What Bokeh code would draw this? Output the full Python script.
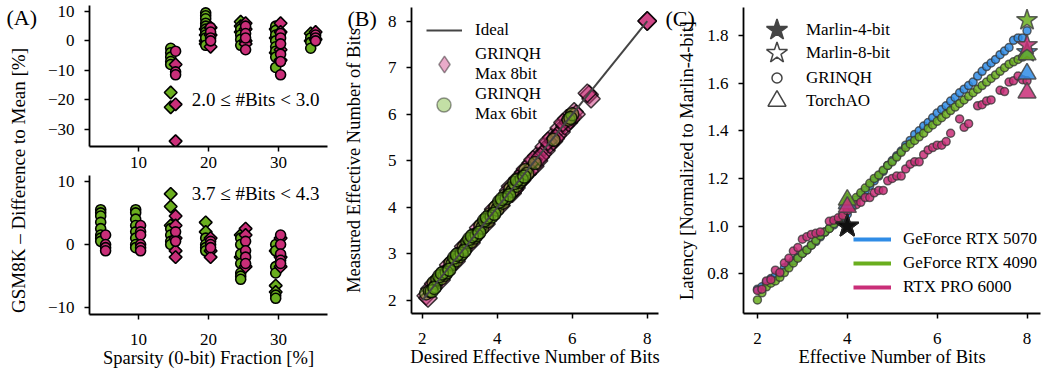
from math import pi
from bokeh.plotting import figure
from bokeh.layouts import row, column
from bokeh.models import Range1d, Label, Legend, LegendItem, FixedTicker, Title
from bokeh.embed import file_html
from bokeh.resources import INLINE

FONT = "Liberation Serif"
GREEN = "#6AAE1E"
PINK = "#C92E78"
BLUE = "#2F8CE6"
NAN = float("nan")

# ---------------- Panel A data ----------------
A_TOP_X = [15, 20, 25, 30, 35]
A_TOP_G_CIRC = [[-2.5, -4, -5.5, -7, -8], [9.5, 8.5, 7.5, 6, 5, 4, 3, 2, 1, -1.5],
                [4, 2, 0.5, -1.5], [5, 3.5, 2, 0, -2, -3.5, -5.5, -9], [1, -0.5, -2.5]]
A_TOP_G_DIAM = [[-17.5, -22.5], [4, 2, 0, -1], [6.5, 5, 3], [4, 1, -4], [2.5, 0]]
A_TOP_P_CIRC = [[-3.5, -10.5, -11.5], [4.5, 3, 1, 0], [5, 2.5, 1, -3],
                [2.5, 1, -1, -4.5, -7, -11.5], [2, 1, 0]]
A_TOP_P_DIAM = [[-8, -21.5, -34], [4.5, 2, -2], [6, 4, 0, -1], [6, 3, -3, -6.5], [3, 0.5]]

A_BOT_X = [5, 10, 15, 20, 25, 30]
A_BOT_G_CIRC = [[5.5, 5, 4.5, 3.5, 2.5, 1.5, 1, 0.5], [5.5, 5, 4, 3, 2, 1, 0, -0.5],
                [2.5, 1.5, 0.5, 0], [1, 0, -0.5, -1], [1, 0, -1.5, -3, -4.5, -5, -5.5],
                [0, -1, -3.5, -4.5, -8, -8.5]]
A_BOT_G_DIAM = [[], [], [8, 6, 3], [3.5, 2], [1.5, -2], [-6.5, -7.5, -1]]
A_BOT_P_CIRC = [[1.5, 0, -0.5, -1], [3, 2, 1.5, 0, -0.5, -1], [2, 0.5], [0.5, 0, -0.5],
                [0.5, -1, -2, -3], [1.5, 0, -1.5, -2.5, -3]]
A_BOT_P_DIAM = [[], [], [4.5, 3, 1, -1, -2], [1, -1, -2], [2.5, 1.5, -3.5], [1, -2, -3.5]]
A_XTICKS = [10, 20, 30]
A_TOP_YTICKS = [-30, -20, -10, 0, 10]
A_BOT_YTICKS = [-10, 0, 10]

# ---------------- Panel B data ----------------
B8_DESIRED = [2.1, 2.15, 2.2, 2.4, 2.6, 2.8, 3.0, 3.2, 3.4, 3.6,
              3.8, 4.0, 4.2, 4.35, 4.4, 4.5, 4.6, 4.7, 4.8, 4.9,
              5.0, 5.05, 5.1, 5.2, 5.25, 5.3, 5.4, 5.45, 5.5, 5.6,
              5.65, 5.7, 5.8, 5.85, 5.9, 6.0, 6.05, 6.45, 6.5, 8.0,
              2.3, 2.5, 2.7, 2.9, 3.1, 3.3, 3.5, 3.7, 3.9, 4.1,
              4.3, 4.45, 4.55, 4.65, 4.75, 4.85, 4.95, 5.15, 5.35, 5.55,
              5.75, 5.95, 6.1, 6.4, 8.0, 8.0]
B8_MEASURED = [2.1, 2.05, 2.25, 2.42, 2.58, 2.83, 2.98, 3.22, 3.38, 3.62,
               3.78, 4.02, 4.18, 4.45, 4.3, 4.42, 4.55, 4.75, 4.72, 4.95,
               4.88, 5.1, 5.0, 5.15, 5.3, 5.22, 5.35, 5.5, 5.42, 5.55,
               5.7, 5.62, 5.75, 5.9, 5.82, 5.95, 6.05, 6.42, 6.33, 8.0,
               2.36, 2.44, 2.76, 2.84, 3.16, 3.24, 3.56, 3.64, 3.96, 4.04,
               4.36, 4.38, 4.62, 4.58, 4.82, 4.78, 5.02, 5.08, 5.42, 5.48,
               5.82, 5.88, 6.0, 6.45, 8.0, 8.0]
B6_DESIRED = [2.1, 2.2, 2.3, 2.35, 2.4, 2.5, 2.55, 2.6, 2.7, 2.75,
              2.8, 2.9, 2.95, 3.0, 3.1, 3.15, 3.2, 3.3, 3.35, 3.4,
              3.5, 3.55, 3.6, 3.7, 3.75, 3.8, 3.9, 3.95, 4.0, 4.1,
              4.15, 4.2, 4.3, 4.35, 4.4, 4.5, 4.55, 4.6, 4.7, 4.75,
              4.8, 5.0, 5.9, 6.0,
              2.25, 2.45, 2.65, 2.85, 3.05, 3.25, 3.45, 3.65, 3.85, 4.05,
              4.25, 4.45, 4.65, 2.32, 2.52, 2.72, 2.92, 3.12, 3.32, 3.52,
              3.72, 3.92, 4.12, 4.32, 4.52, 4.72, 5.5, 5.95]
B6_MEASURED = [2.15, 2.2, 2.38, 2.3, 2.45, 2.47, 2.6, 2.55, 2.66, 2.8,
               2.78, 2.86, 3.0, 2.95, 3.14, 3.1, 3.25, 3.26, 3.4, 3.35,
               3.45, 3.6, 3.56, 3.74, 3.7, 3.85, 3.86, 4.0, 3.95, 4.14,
               4.1, 4.25, 4.26, 4.4, 4.35, 4.46, 4.6, 4.55, 4.65, 4.8,
               4.72, 4.95, 5.88, 6.0,
               2.2, 2.52, 2.6, 2.92, 3.0, 3.32, 3.4, 3.72, 3.8, 4.12,
               4.2, 4.52, 4.6, 2.27, 2.58, 2.66, 2.98, 3.06, 3.38, 3.46,
               3.78, 3.86, 4.18, 4.26, 4.58, 4.66, 5.45, 5.92]
IDEAL = [2, 8]
B_TICKS = [2, 3, 4, 5, 6, 7, 8]
B_XTICKS = [2, 4, 6, 8]

# ---------------- Panel C data ----------------
C_BITS = [2.0, 2.1, 2.2, 2.3, 2.4, 2.5, 2.6, 2.7, 2.8, 2.9,
          3.0, 3.1, 3.2, 3.3, 3.4, 3.5, 3.6, 3.7, 3.8, 3.9,
          4.0, 4.1, 4.2, 4.3, 4.4, 4.5, 4.6, 4.7, 4.8, 4.9,
          5.0, 5.1, 5.2, 5.3, 5.4, 5.5, 5.6, 5.7, 5.8, 5.9,
          6.0, 6.1, 6.2, 6.3, 6.4, 6.5, 6.6, 6.7, 6.8, 6.9,
          7.0, 7.1, 7.2, 7.3, 7.4, 7.5, 7.6, 7.7, 7.8, 7.9, 8.0]
C_5070 = [0.735, 0.745, 0.765, 0.78, 0.79, 0.80, 0.825, 0.84, 0.855, 0.87,
          0.885, 0.90, 0.92, 0.935, 0.955, 0.975, 0.99, 1.005, 1.02, 1.035,
          1.05, 1.09, 1.11, 1.13, 1.15, 1.17, 1.19, 1.21, 1.23, 1.255,
          1.275, 1.295, 1.315, 1.34, 1.36, 1.385, 1.40, 1.42, 1.435, 1.455,
          1.475, 1.49, 1.505, 1.525, 1.54, 1.56, 1.575, 1.59, 1.605, 1.63,
          1.65, 1.67, 1.685, 1.70, 1.72, 1.735, 1.75, 1.78, 1.79, 1.79, 1.82]
C_4090 = [0.69, 0.72, 0.745, 0.76, 0.77, 0.785, 0.805, 0.825, 0.845, 0.865,
          0.885, 0.90, 0.92, 0.94, 0.96, 0.975, 0.99, 1.01, 1.025, 1.04,
          1.07, 1.10, 1.12, 1.14, 1.16, 1.18, 1.20, 1.215, 1.235, 1.255,
          1.27, 1.29, 1.31, 1.33, 1.345, 1.36, 1.375, 1.39, 1.41, 1.425,
          1.44, 1.455, 1.47, 1.485, 1.50, 1.515, 1.53, 1.545, 1.56, 1.575,
          1.59, 1.605, 1.62, 1.635, 1.65, 1.665, 1.68, 1.69, 1.70, 1.71, 1.72]
C_PRO_BITS = [2.0, 2.1, 2.2, 2.3, 2.4, 2.5, 2.6, 2.7, 2.8, 2.9, 3.0, 3.1, 3.2, 3.3, 3.4,
              3.6, 3.7, 3.8, 3.9, 4.0, 4.1, 4.2, 4.3, 4.4, 4.5, 4.6, 4.7, 4.8, 4.9, 5.0,
              5.1, 5.2, 5.3, 5.4, 5.5, 5.6, 5.7, 5.8, 5.9, 6.0, 6.1, 6.2, 6.3,
              6.5, 6.6, 6.7, 6.9, 7.0, 7.1, 7.2, 7.4, 7.5, 7.6, 7.7, 7.8, 7.9, 8.0]
C_PRO = [0.73, 0.735, 0.77, 0.775, 0.815, 0.805, 0.845, 0.865, 0.895, 0.91, 0.945, 0.955, 0.965, 0.97, 0.975,
         1.02, 1.025, 1.035, 1.045, 1.065, 1.08, 1.09, 1.10, 1.12, 1.12, 1.14, 1.15, 1.15, 1.19, 1.20,
         1.21, 1.21, 1.24, 1.26, 1.27, 1.27, 1.30, 1.32, 1.33, 1.34, 1.34, 1.355, 1.39,
         1.45, 1.415, 1.43, 1.505, 1.51, 1.525, 1.53, 1.57, 1.565, 1.605, 1.61, 1.63, 1.615, 1.61]
GPUS = ["GeForce RTX 5070", "GeForce RTX 4090", "RTX PRO 6000"]
GPU_COLORS = [BLUE, GREEN, PINK]
MARLIN4 = [1.0, 1.0, 1.0]
MARLIN8 = [1.73, 1.865, 1.76]
TORCHAO_4 = [1.095, 1.11, 1.08]
TORCHAO_8 = [1.64, 1.72, 1.56]
C_XTICKS = [2, 4, 6, 8]
C_YTICKS = [0.8, 1.0, 1.2, 1.4, 1.6, 1.8]


def make_fig(w, h, xr, yr, left, right, top, bottom):
    p = figure(width=w, height=h, x_range=Range1d(*xr), y_range=Range1d(*yr),
               output_backend="svg", toolbar_location=None,
               min_border_left=left, min_border_right=right,
               min_border_top=top, min_border_bottom=bottom)
    p.grid.visible = False
    p.outline_line_color = None
    return p


def style(p, xt, yt, yfmt=None):
    p.xaxis.ticker = FixedTicker(ticks=xt)
    p.yaxis.ticker = FixedTicker(ticks=yt)
    if yfmt:
        p.yaxis.major_label_overrides = {v: yfmt.format(v) for v in yt}
    for ax in p.axis:
        ax.axis_line_width = 1.8
        ax.axis_line_color = "black"
        ax.major_tick_line_width = 1.5
        ax.major_tick_line_color = "black"
        ax.major_tick_out = 5
        ax.major_tick_in = 0
        ax.minor_tick_line_color = None
        ax.major_label_text_font = FONT
        ax.major_label_text_font_size = "17px"
        ax.major_label_text_color = "black"
        ax.axis_label_text_font = FONT
        ax.axis_label_text_font_size = "18.5px"
        ax.axis_label_text_font_style = "normal"
        ax.axis_label_text_color = "black"
    p.xaxis.major_label_standoff = 14
    p.yaxis.major_label_standoff = 10


def flat(xs, groups, dx):
    X, Y = [], []
    for x, g in zip(xs, groups):
        X += [x + dx] * len(g)
        Y += list(g)
    return X, Y


def add_legend(p, items, frame_h, x, bottom_from_top, gw, gh, standoff, spacing=0, fs="17px"):
    leg = Legend(items=items, location=(x, frame_h - bottom_from_top), glyph_width=int(gw),
                 glyph_height=int(gh), label_standoff=int(round(standoff)), spacing=int(spacing),
                 padding=0, margin=0, border_line_color=None, background_fill_alpha=0,
                 label_text_font=FONT, label_text_font_size=fs, label_height=20,
                 label_text_color="black")
    p.add_layout(leg)


def canvas_label(**kw):
    try:
        return Label(x_units="canvas", y_units="canvas", text_color="black", **kw)
    except ValueError:
        return Label(x_units="screen", y_units="screen", text_color="black", **kw)


def panel_tag(p, text, offset):
    t = Title(text=text, align="left", offset=offset, vertical_align="bottom", standoff=-46,
              text_font=FONT, text_font_size="22px", text_font_style="normal",
              text_color="black")
    p.add_layout(t, "above")


def draw_a(p, xs, gc, gd, pc, pdm):
    x, y = flat(xs, gd, -0.4)
    p.scatter(x, y, marker="square", angle=pi / 4, size=9, fill_color=GREEN, line_color="black", line_width=1.6)
    x, y = flat(xs, gc, -0.4)
    p.scatter(x, y, size=10, fill_color=GREEN, line_color="black", line_width=1.6)
    x, y = flat(xs, pdm, 0.3)
    p.scatter(x, y, marker="square", angle=pi / 4, size=9, fill_color=PINK, line_color="black", line_width=1.6)
    x, y = flat(xs, pc, 0.3)
    p.scatter(x, y, size=10, fill_color=PINK, line_color="black", line_width=1.6)


# ---------------- Panel A ----------------
lab = figure(width=44, height=377, x_range=Range1d(0, 1), y_range=Range1d(0, 1),
             output_backend="svg", toolbar_location=None, x_axis_location=None,
             y_axis_location=None, min_border=0)
lab.grid.visible = False
lab.outline_line_color = None
try:
    lab.frame_align = False
except Exception:
    pass
lab.add_layout(canvas_label(x=18, y=180, angle=pi / 2,
                            text="GSM8K \u2013 Difference to Mean [%]", text_align="center",
                            text_baseline="middle", text_font=FONT, text_font_size="19px"))
lab.add_layout(canvas_label(x=6, y=4, text="(A)", text_align="left", text_baseline="top",
                            text_font=FONT, text_font_size="22px"))

pa1 = make_fig(296, 171, (3, 37), (-35.8, 12), 35, 13, 5, 25)
draw_a(pa1, A_TOP_X, A_TOP_G_CIRC, A_TOP_G_DIAM, A_TOP_P_CIRC, A_TOP_P_DIAM)
style(pa1, A_XTICKS, A_TOP_YTICKS)
pa1.xaxis.major_label_standoff = 5
pa1.add_layout(Label(x=17.6, y=-20, text="2.0 \u2264 #Bits < 3.0", text_baseline="middle",
                     text_font=FONT, text_font_size="19px", text_color="black"))

pa2 = make_fig(296, 206, (3, 37), (-11.06, 10.9), 35, 13, 4, 63)
draw_a(pa2, A_BOT_X, A_BOT_G_CIRC, A_BOT_G_DIAM, A_BOT_P_CIRC, A_BOT_P_DIAM)
style(pa2, A_XTICKS, A_BOT_YTICKS)
pa2.xaxis.axis_label = "Sparsity (0-bit) Fraction [%]"
pa2.xaxis.axis_label_standoff = 0
pa2.add_layout(Label(x=17.6, y=8.06, text="3.7 \u2264 #Bits < 4.3", text_baseline="middle",
                     text_font=FONT, text_font_size="19px", text_color="black"))

# ---------------- Panel B ----------------
pb = make_fig(322, 377, (1.71, 8.3), (1.72, 8.29), 71, 4, 7, 64)
r8 = pb.scatter(B8_DESIRED, B8_MEASURED, marker="square", angle=pi / 4, size=13,
                fill_color=PINK, fill_alpha=0.5, line_color="black", line_alpha=0.75, line_width=1.5)
r6 = pb.scatter(B6_DESIRED, B6_MEASURED, size=13, fill_color=GREEN, fill_alpha=0.5,
                line_color="black", line_alpha=0.75, line_width=1.5)
ri = pb.line(IDEAL, IDEAL, line_color="#444444", line_width=2)
style(pb, B_XTICKS, B_TICKS)
pb.xaxis.axis_label = "Desired Effective Number of Bits"
pb.yaxis.axis_label = "Measured Effective Number of Bits"
pb.xaxis.axis_label_standoff = 0
pb.yaxis.axis_label_standoff = 21
lg8 = pb.scatter([NAN], [NAN], marker="diamond", fill_color=PINK, fill_alpha=0.4,
                 line_color="black", line_alpha=0.4, line_width=1.5)
lg6 = pb.scatter([NAN], [NAN], marker="circle", fill_color=GREEN, fill_alpha=0.4,
                 line_color="black", line_alpha=0.4, line_width=1.5)
add_legend(pb, [LegendItem(label="Ideal", renderers=[ri])], 306, 15, 33, 36, 20, 13)
add_legend(pb, [LegendItem(label="GRINQH\nMax 8bit", renderers=[lg8])], 306, 12, 77.5, 42, 42, 10)
add_legend(pb, [LegendItem(label="GRINQH\nMax 6bit", renderers=[lg6])], 306, 15, 117, 35, 35, 14)
panel_tag(pb, "(B)", -64)

# ---------------- Panel C ----------------
pc = make_fig(379, 377, (1.69, 8.3), (0.633, 1.918), 81, 1, 7, 64)
pt_kw = dict(size=8, line_color="#333333", line_alpha=0.75, line_width=1.5, fill_alpha=0.85)
pc.scatter(C_BITS, C_5070, fill_color=BLUE, **pt_kw)
pc.scatter(C_BITS, C_4090, fill_color=GREEN, **pt_kw)
pc.scatter(C_PRO_BITS, C_PRO, fill_color=PINK, **pt_kw)
ref_kw = dict(line_color="#444444", line_alpha=0.85, line_width=1.5, fill_alpha=0.85)
for i, col in enumerate(GPU_COLORS):
    pc.scatter([4], [TORCHAO_4[i]], marker="triangle", size=18, fill_color=col, **ref_kw)
    pc.scatter([8], [TORCHAO_8[i]], marker="triangle", size=18, fill_color=col, **ref_kw)
    pc.scatter([8], [MARLIN8[i]], marker="star", size=22, fill_color=col, **ref_kw)
    pc.scatter([4], [MARLIN4[i]], marker="star", size=24, fill_color="black", fill_alpha=0.6,
               line_color="#222222", line_width=1.5)
style(pc, C_XTICKS, C_YTICKS, "{:.1f}")
pc.xaxis.axis_label = "Effective Number of Bits"
pc.yaxis.axis_label = "Latency [Normalized to Marlin-4-bit]"
pc.xaxis.axis_label_standoff = 0
pc.yaxis.axis_label_standoff = 7

d_star4 = pc.scatter([NAN], [NAN], marker="star", fill_color="#444444", line_color="#444444", line_width=1.5)
d_star8 = pc.scatter([NAN], [NAN], marker="star", fill_color="white", line_color="#444444", line_width=1.5)
d_circ = pc.scatter([NAN], [NAN], marker="circle", fill_color="white", line_color="#444444", line_width=1.5)
d_tri = pc.scatter([NAN], [NAN], marker="triangle", fill_color="white", line_color="#444444", line_width=1.5)
add_legend(pc, [LegendItem(label="Marlin-4-bit", renderers=[d_star4])], 306, 6, 50, 55, 55, 2)
add_legend(pc, [LegendItem(label="Marlin-8-bit", renderers=[d_star8])], 306, 6, 73, 55, 55, 2)
add_legend(pc, [LegendItem(label="GRINQH", renderers=[d_circ])], 306, 21, 83, 25, 25, 17)
add_legend(pc, [LegendItem(label="TorchAO", renderers=[d_tri])], 306, 11, 116, 45, 45, 7)

gpu_items = []
for name, col in zip(GPUS, GPU_COLORS):
    rl = pc.line([NAN, NAN], [NAN, NAN], line_color=col, line_width=4)
    gpu_items.append(LegendItem(label=name, renderers=[rl]))
add_legend(pc, gpu_items, 306, 110, 290, 38, 20, 12, spacing=4)
panel_tag(pc, "(C)", -78)

layout = row(lab, column(pa1, pa2, spacing=0), pb, pc, spacing=0)
open("out.html", "w").write(file_html(layout, INLINE))
